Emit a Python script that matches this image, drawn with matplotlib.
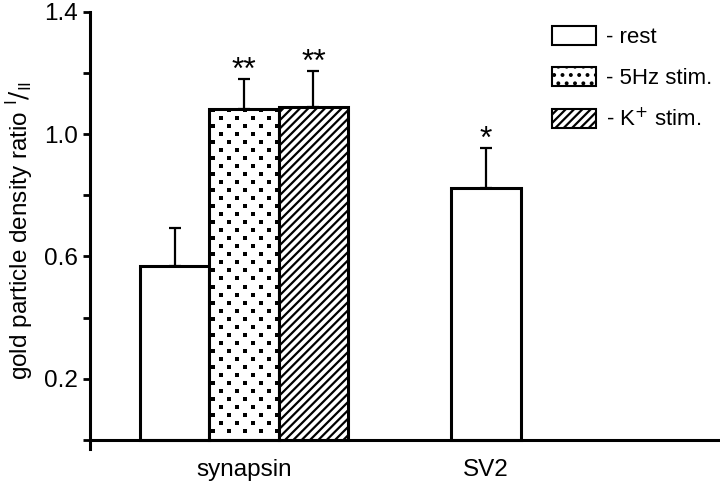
import matplotlib.pyplot as plt
import matplotlib.patches as mpatches
import numpy as np

plt.rcParams['font.family'] = ['Liberation Sans', 'DejaVu Sans']
plt.rcParams['hatch.linewidth'] = 1.6

groups = ["synapsin", "SV2"]
conditions = ["rest", "5Hz stim.", "K$^{+}$ stim."]
# bar heights and upper error (top of error bar)
syn_vals = [0.57, 1.083, 1.089]
syn_err = [0.123, 0.097, 0.118]
sv2_vals = [0.824]
sv2_err = [0.131]
syn_stars = ["", "**", "**"]
sv2_stars = ["*"]

syn_x = [-1, 0, 1]
sv2_x = [3.48]
width = 1.0
lw = 2.2
fs = 17.5

fig = plt.figure(figsize=(7.2, 4.88), dpi=100)
ax = fig.add_axes([0.125, 0.080, 0.875, 0.8955])

hatches = ["", None, "////"]
bars = []
for x, v, h in zip(syn_x, syn_vals, hatches):
    b = ax.bar(x, v, width, color="white", edgecolor="black", linewidth=lw,
               hatch=h if h else None, zorder=2)[0]
    bars.append(b)
ax.bar(sv2_x, sv2_vals, width, color="white", edgecolor="black", linewidth=lw, zorder=2)

# dotted fill for the 5Hz bar (staggered grid of small squares)
dot_b = bars[1]
ys = np.arange(0.03, syn_vals[1], 0.0262)
px, py = [], []
for i, yy in enumerate(ys):
    off = 0.0 if i % 2 == 0 else 0.115
    xs = np.arange(syn_x[1] - 0.5 + 0.06 + off, syn_x[1] + 0.5, 0.23)
    px.extend(xs)
    py.extend([yy] * len(xs))
sc = ax.scatter(px, py, s=7, marker="s", color="black", linewidths=0, zorder=3)
sc.set_clip_path(dot_b)

ax.errorbar(syn_x, syn_vals, yerr=[np.zeros(3), syn_err], fmt="none", ecolor="black",
            elinewidth=1.6, capsize=4.5, capthick=1.6, zorder=1)
ax.errorbar(sv2_x, sv2_vals, yerr=[np.zeros(1), sv2_err], fmt="none", ecolor="black",
            elinewidth=1.6, capsize=4.5, capthick=1.6, zorder=1)

for x, v, e, s in zip(syn_x + sv2_x, syn_vals + sv2_vals, syn_err + sv2_err, syn_stars + sv2_stars):
    if s:
        ax.annotate(s, (x, v + e), xytext=(0, -5), textcoords="offset points",
                    ha="center", va="bottom", fontsize=23)

ax.set_xlim(-2.216, 6.85)
ax.set_ylim(-0.03, 1.4)
ax.spines["top"].set_visible(False)
ax.spines["right"].set_visible(False)
ax.spines["bottom"].set_position(("data", 0))
ax.spines["left"].set_linewidth(2.2)
ax.spines["bottom"].set_linewidth(2.2)
ax.spines["left"].set_bounds(-0.03, 1.4)

ax.set_yticks([0.2, 0.6, 1.0, 1.4])
ax.set_yticklabels(["0.2", "0.6", "1.0", "1.4"], fontsize=fs)
ax.set_yticks([0.0, 0.4, 0.8, 1.2], minor=True)
ax.tick_params(axis="y", which="both", direction="out", length=5, width=2, pad=4)
ax.set_xticks([syn_x[1], sv2_x[0]])
ax.set_xticklabels(groups, fontsize=fs)
ax.tick_params(axis="x", length=0, pad=14)

ax.set_ylabel("gold particle density ratio $^{\\mathregular{I}}/_{\\mathregular{II}}$", fontsize=fs, labelpad=6)

handles = [mpatches.Patch(facecolor="white", edgecolor="black", linewidth=1.5),
           mpatches.Patch(facecolor="white", edgecolor="black", linewidth=1.5, hatch=".."),
           mpatches.Patch(facecolor="white", edgecolor="black", linewidth=1.5, hatch="////")]
ax.legend(handles, ["- " + c for c in conditions], loc="upper left",
          bbox_to_anchor=(552 / 720, 1 - 26 / 488), bbox_transform=fig.transFigure,
          frameon=False, fontsize=16, handlelength=2.0, handleheight=0.95,
          handletextpad=0.45, labelspacing=0.85, borderpad=0, borderaxespad=0)

fig.savefig("out.png", dpi=100)
